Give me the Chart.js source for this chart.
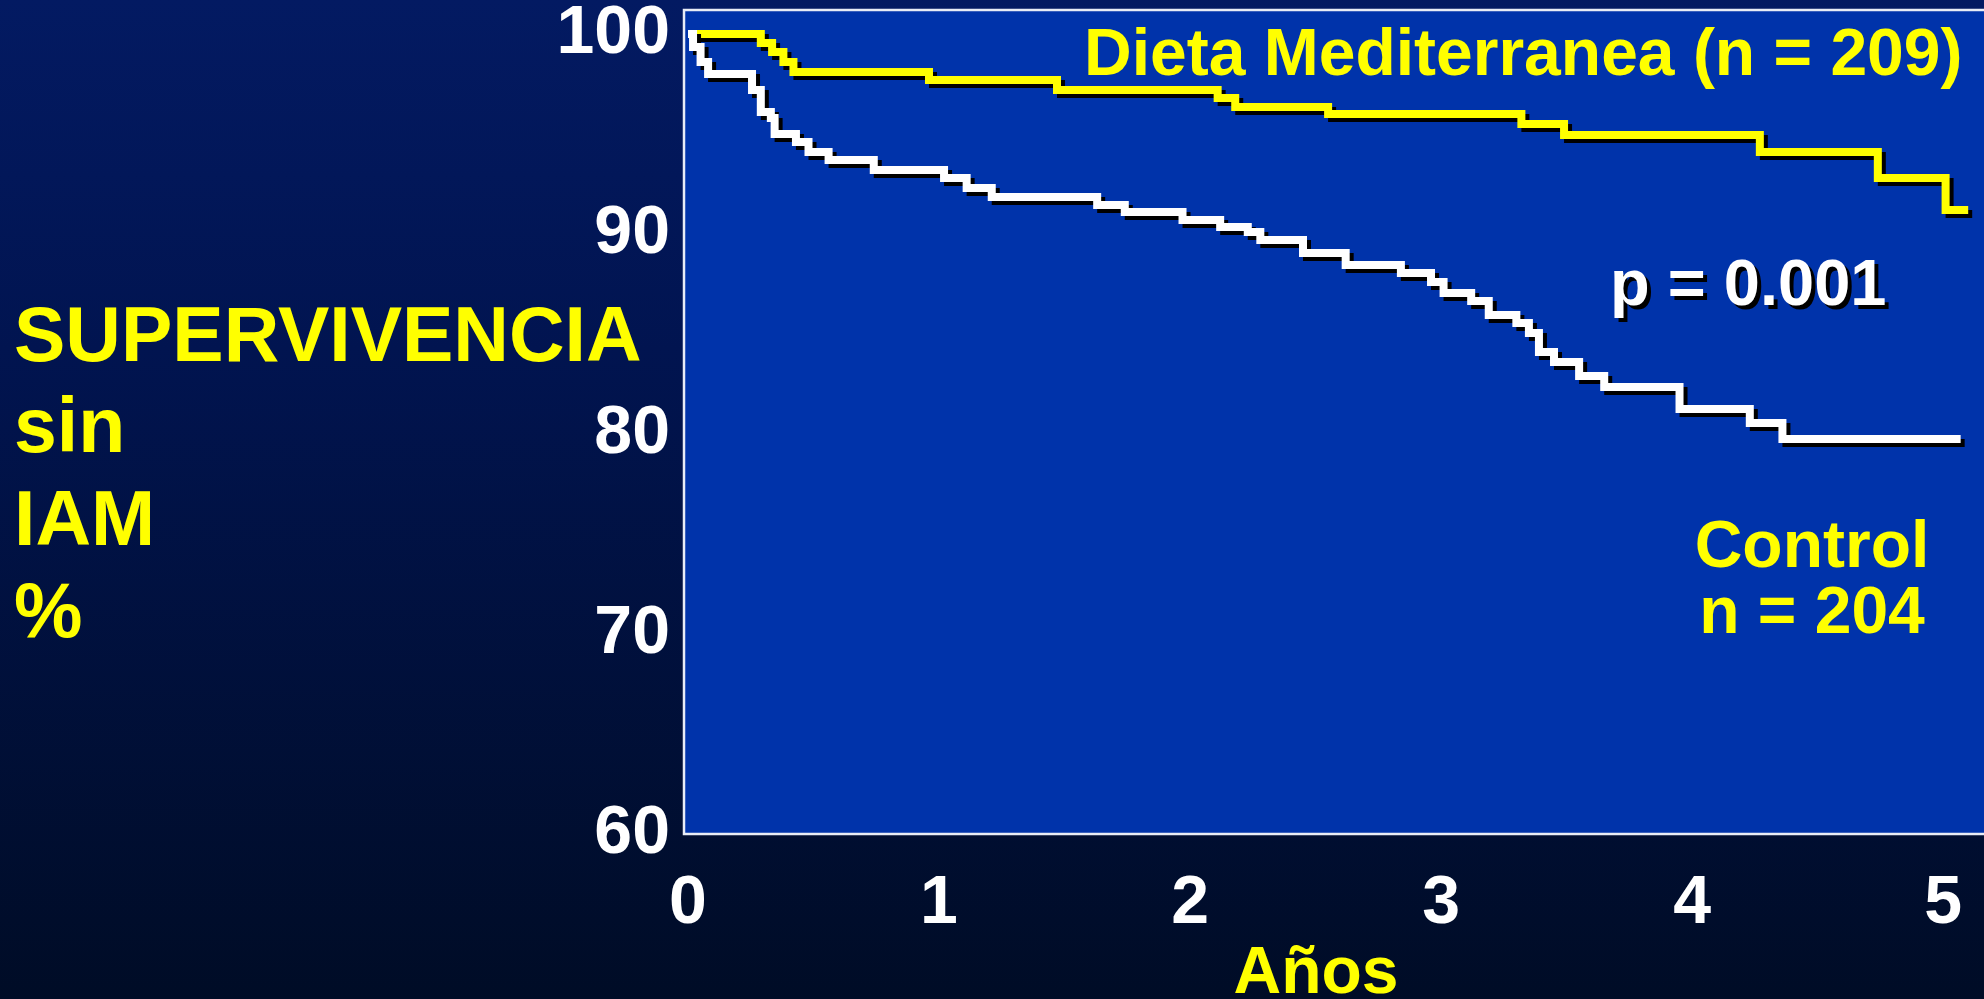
<!DOCTYPE html>
<html>
<head>
<meta charset="utf-8">
<script src="https://cdn.jsdelivr.net/npm/chart.js@4.4.0/dist/chart.umd.min.js"></script>
<style>
    html, body { margin: 0; padding: 0; }
    body {
        width: 1984px;
        height: 999px;
        overflow: hidden;
        background: linear-gradient(to bottom, #031a62 0%, #011450 35%, #000c26 100%);
    }
    canvas { display: block; }
</style>
</head>
<body>
<canvas id="chart-km" width="1984" height="999"></canvas>
<script>
// Kaplan-Meier steps: year of each event and survival (%) right after it
const mediYears = [0, 0.29, 0.335, 0.38, 0.42, 0.96, 1.47, 2.11, 2.18, 2.55, 3.32, 3.49, 4.27, 4.74, 5.01, 5.10];
const mediSurvival = [100, 99.55, 99.1, 98.6, 98.1, 97.7, 97.2, 96.8, 96.35, 96.0, 95.5, 94.95, 94.1, 92.8, 91.2, 91.2];

const controlYears = [0, 0.02, 0.05, 0.08, 0.255, 0.29, 0.33, 0.345, 0.43, 0.48, 0.56, 0.74, 1.02, 1.11, 1.21,
    1.63, 1.74, 1.97, 2.12, 2.23, 2.28, 2.45, 2.62, 2.84, 2.96, 3.01, 3.12, 3.19, 3.30, 3.35, 3.39, 3.45,
    3.55, 3.65, 3.95, 4.23, 4.36, 5.07];
const controlSurvival = [100, 99.35, 98.6, 98.0, 97.2, 96.1, 95.8, 95.0, 94.6, 94.1, 93.7, 93.2, 92.8, 92.3, 91.85,
    91.45, 91.1, 90.7, 90.35, 90.1, 89.7, 89.05, 88.45, 88.05, 87.6, 87.05, 86.65, 85.95, 85.55, 85.05, 84.1, 83.6,
    82.9, 82.35, 81.25, 80.55, 79.75, 79.75];

const yearTicks = [0, 1, 2, 3, 4, 5];
const survivalTicks = [60, 70, 80, 90, 100];

const yTitleLines = ["SUPERVIVENCIA", "sin", "IAM", "%"];
const xTitle = "Años";
const mediLabel = "Dieta Mediterranea (n = 209)";
const controlLabel = ["Control", "n = 204"];
const pValueLabel = "p = 0.001";

const FONT = '"Liberation Sans", Arial, sans-serif';
const YELLOW = "#ffff00";

function toPoints(xs, ys) {
    return xs.map(function(x, i) { return {x: x, y: ys[i]}; });
}

function stepLine(data, color) {
    return {
        data: data,
        borderColor: color,
        borderWidth: 8,
        stepped: "before",
        pointRadius: 0,
        fill: false,
        borderJoinStyle: "miter",
        borderCapStyle: "butt"
    };
}

// fixed axis boxes, no extra room for half-labels at the ends
function fixedBox(size, horizontal) {
    return function(scale) {
        if (horizontal) {
            scale.height = size;
        } else {
            scale.width = size;
        }
        scale.paddingTop = 0;
        scale.paddingBottom = 0;
        scale.paddingLeft = 0;
        scale.paddingRight = 0;
    };
}

const slidePlugin = {
    id: "slide",
    beforeDraw(chart) {
        const ctx = chart.ctx;
        const a = chart.chartArea;
        ctx.save();
        ctx.fillStyle = "#0033aa";
        ctx.fillRect(a.left, a.top, chart.width - a.left + 4, a.bottom - a.top);
        ctx.strokeStyle = "#e8ecf6";
        ctx.lineWidth = 2.5;
        ctx.beginPath();
        ctx.moveTo(chart.width + 4, a.top);
        ctx.lineTo(a.left, a.top);
        ctx.lineTo(a.left, a.bottom);
        ctx.lineTo(chart.width + 4, a.bottom);
        ctx.stroke();
        ctx.restore();
    },
    beforeDatasetDraw(chart) {
        const ctx = chart.ctx;
        ctx.save();
        ctx.shadowColor = "#000000";
        ctx.shadowOffsetX = 4;
        ctx.shadowOffsetY = 4;
        ctx.shadowBlur = 0;
    },
    afterDatasetDraw(chart) {
        chart.ctx.restore();
    },
    afterDraw(chart) {
        const ctx = chart.ctx;
        ctx.save();
        ctx.textBaseline = "alphabetic";
        ctx.fillStyle = YELLOW;

        ctx.font = "bold 77px " + FONT;
        ctx.textAlign = "left";
        const titleBase = [361, 452, 545, 637];
        yTitleLines.forEach(function(line, i) {
            ctx.fillText(line, 14, titleBase[i]);
        });

        ctx.font = "bold 66px " + FONT;
        ctx.fillText(mediLabel, 1084, 75);

        ctx.textAlign = "center";
        ctx.fillText(controlLabel[0], 1812, 567);
        ctx.fillText(controlLabel[1], 1812, 633);
        ctx.fillText(xTitle, 1316, 993);

        ctx.textAlign = "left";
        ctx.font = "bold 65px " + FONT;
        ctx.fillStyle = "#000000";
        ctx.fillText(pValueLabel, 1614, 309);
        ctx.fillStyle = "#ffffff";
        ctx.fillText(pValueLabel, 1610, 305);
        ctx.restore();
    }
};

const tickFont = {family: FONT, size: 68, weight: "bold"};

new Chart(document.getElementById("chart-km"), {
    type: "line",
    data: {
        datasets: [
            stepLine(toPoints(controlYears, controlSurvival), "#ffffff"),
            stepLine(toPoints(mediYears, mediSurvival), YELLOW)
        ]
    },
    options: {
        responsive: false,
        animation: false,
        devicePixelRatio: 1,
        layout: {autoPadding: false, padding: {top: 10, right: 0, bottom: 0, left: 0}},
        plugins: {
            legend: {display: false},
            tooltip: {enabled: false}
        },
        scales: {
            x: {
                type: "linear",
                min: -0.016,
                max: 5.163,
                afterBuildTicks: function(scale) {
                    scale.ticks = yearTicks.map(function(v) { return {value: v}; });
                },
                afterFit: fixedBox(165, true),
                grid: {display: false, drawTicks: false},
                border: {display: false},
                ticks: {color: "#ffffff", font: tickFont, padding: 29, maxRotation: 0, autoSkip: false}
            },
            y: {
                type: "linear",
                min: 60,
                max: 101.2,
                afterBuildTicks: function(scale) {
                    scale.ticks = survivalTicks.map(function(v) { return {value: v}; });
                },
                afterFit: fixedBox(684, false),
                grid: {display: false, drawTicks: false},
                border: {display: false},
                ticks: {color: "#ffffff", font: tickFont, padding: 14, autoSkip: false}
            }
        }
    },
    plugins: [slidePlugin]
});
</script>
</body>
</html>
